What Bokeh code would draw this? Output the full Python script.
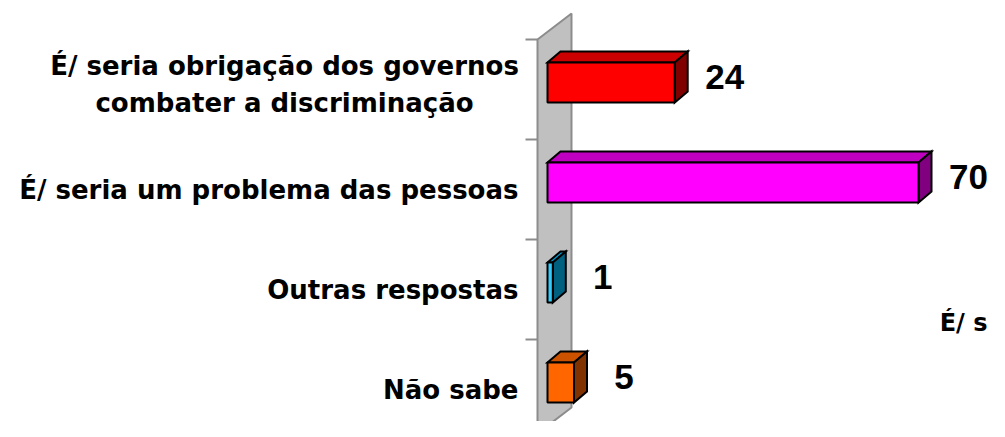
from bokeh.plotting import figure
from bokeh.models import Range1d, ColumnDataSource
from bokeh.core.properties import value
from bokeh.embed import file_html
from bokeh.resources import INLINE

# ---- data ----
categories = [
    "É/ seria obrigação dos governos\ncombater a discriminação",
    "É/ seria um problema das pessoas",
    "Outras respostas",
    "Não sabe",
]
values = [24, 70, 1, 5]
value_labels = ["24", "70", "1", "5"]
front_colors = ["#FF0000", "#FF00FF", "#33CCFF", "#FF6600"]
top_colors = ["#CC0000", "#C000C0", "#0099CC", "#CC5200"]
side_colors = ["#800000", "#800080", "#006080", "#803300"]
cut_text = "É/ s"

# ---- layout (pixel scale helpers) ----
W, H = 989, 421
PX_X = 5.3          # pixels per value unit
PX_Y = 100.0        # pixels per category step
X0 = 547            # pixel position of value 0
Y0 = 89             # pixel position of first category centre
x_range = Range1d(-X0 / PX_X, (W - X0) / PX_X)
y_range = Range1d((H - Y0) / PX_Y, -Y0 / PX_Y)   # flipped: first category at top

DX = 13 / PX_X      # 3D depth offset (x)
DY = 11 / PX_Y      # 3D depth offset (y, upwards)
BAR_H = 40 / PX_Y
BAR_SHIFT = -0.07

p = figure(width=W, height=H, x_range=x_range, y_range=y_range,
           output_backend="svg", toolbar_location=None, min_border=0,
           x_axis_location=None, y_axis_location=None)
p.grid.visible = False
p.outline_line_color = None
p.background_fill_color = "white"
p.border_fill_color = "white"

# ---- wall ----
wl, wr = -10 / PX_X, 24 / PX_X
n = len(categories)
wall_x = [wl, wr, wr, wl]
wall_y = [-0.5, -0.76, n - 0.82, n - 0.56]
p.patch(wall_x, wall_y, fill_color="#C0C0C0", line_color="#8C8C8C", line_width=2)

# tick marks at category boundaries
tick_y = [i - 0.5 for i in range(n + 1)]
p.segment(x0=[wl - 12 / PX_X] * len(tick_y), y0=tick_y,
          x1=[wl] * len(tick_y), y1=tick_y, line_color="#8C8C8C", line_width=2)

# ---- 3D bars ----
ys = [i + BAR_SHIFT for i in range(n)]
tops = [y - BAR_H / 2 for y in ys]
bots = [y + BAR_H / 2 for y in ys]

top_xs, top_ys, side_xs, side_ys = [], [], [], []
for v, yt, yb in zip(values, tops, bots):
    top_xs.append([0, v, v + DX, DX])
    top_ys.append([yt, yt, yt - DY, yt - DY])
    side_xs.append([v, v + DX, v + DX, v])
    side_ys.append([yt, yt - DY, yb - DY, yb])

p.patches(top_xs, top_ys, fill_color=top_colors, line_color="black",
          line_width=2, line_join="miter")
p.patches(side_xs, side_ys, fill_color=side_colors, line_color="black",
          line_width=2, line_join="miter")
p.hbar(y=ys, left=0, right=values, height=BAR_H, fill_color=front_colors,
       line_color="black", line_width=2)

# ---- value labels ----
src_v = ColumnDataSource(dict(x=[v + 50 / PX_X for v in values],
                              y=[y - DY / 2 for y in ys],
                              t=value_labels))
p.text(x="x", y="y", text="t", source=src_v, text_align="center",
       text_baseline="middle", text_font=value("Liberation Sans"),
       text_font_style="bold", text_font_size="35px", text_color="black")

# ---- category labels ----
lab_x = -29 / PX_X
single = [(c, i) for i, c in enumerate(categories) if "\n" not in c]
multi = [(c, i) for i, c in enumerate(categories) if "\n" in c]
p.text(x=[lab_x] * len(single), y=[i for _, i in single],
       text=[c for c, _ in single], text_align="right", text_baseline="middle",
       text_font=value("DejaVu Sans"), text_font_style="bold",
       text_font_size="26px", text_color="black")
p.text(x=[lab_x - 234 / PX_X] * len(multi), y=[i - 0.05 for _, i in multi],
       text=[c for c, _ in multi], text_align="center", text_baseline="middle",
       text_line_height=1.26,
       text_font=value("DejaVu Sans"), text_font_style="bold",
       text_font_size="26px", text_color="black")

# partial text at the right edge (part of a neighbouring element)
p.text(x=[(W - 2 - X0) / PX_X], y=[2.33], text=[cut_text], text_align="right",
       text_baseline="middle", text_font=value("DejaVu Sans"),
       text_font_style="bold", text_font_size="24px", text_color="black")

open("out.html", "w").write(file_html(p, INLINE))
